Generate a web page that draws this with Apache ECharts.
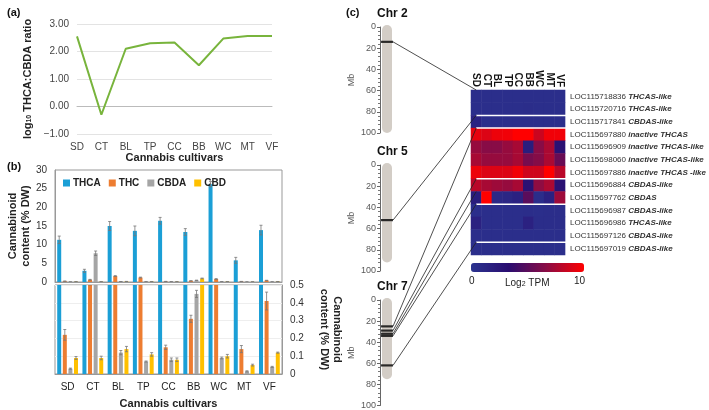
<!DOCTYPE html>
<html>
<head>
<meta charset="utf-8">
<script src="https://cdn.jsdelivr.net/npm/echarts@6/dist/echarts.min.js"></script>
<style>html,body{margin:0;padding:0;background:#fff}#main{width:709px;height:410px}</style>
</head>
<body>
<div id="main"></div>
<script>
// cultivars
var cultivars = ['SD', 'CT', 'BL', 'TP', 'CC', 'BB', 'WC', 'MT', 'VF'];

// panel (a)
var ratio = [2.55, -0.3, 2.1, 2.3, 2.33, 1.5, 2.47, 2.56, 2.56];

// panel (b)
var thca = [11.3, 3.0, 15.0, 13.7, 16.4, 13.4, 26.2, 5.8, 13.9];
var thc = [0.22, 0.6, 1.6, 1.2, 0.15, 0.31, 0.8, 0.14, 0.41];
var cbda = [0.03, 7.7, 0.12, 0.07, 0.08, 0.45, 0.09, 0.015, 0.04];
var cbd = [0.09, 0.09, 0.14, 0.11, 0.08, 0.95, 0.10, 0.05, 0.12];
var thcaErr = [1.0, 0.4, 1.2, 1.3, 0.9, 0.9, 0.7, 0.8, 1.3];
var thcErr = [0.03, 0.1, 0.1, 0.1, 0.012, 0.02, 0.1, 0.02, 0.05];
var cbdaErr = [0.003, 0.6, 0.012, 0.003, 0.01, 0.02, 0.005, 0.003, 0.003];
var cbdErr = [0.008, 0.01, 0.015, 0.01, 0.01, 0.1, 0.01, 0.005, 0.003];

// panel (c)
var genes = ['LOC115718836|THCAS-like', 'LOC115720716|THCAS-like', 'LOC115717841|CBDAS-like',
  'LOC115697880|inactive THCAS', 'LOC115696909|inactive THCAS-like', 'LOC115698060|inactive THCAS-like',
  'LOC115697886|inactive THCAS -like', 'LOC115696884|CBDAS-like', 'LOC115697762|CBDAS',
  'LOC115696987|CBDAS-like', 'LOC115696986|THCAS-like', 'LOC115697126|CBDAS-like', 'LOC115697019|CBDAS-like'];
var tpm = [
  [0.5, 0.5, 0.5, 0.5, 0.5, 0.5, 0.5, 0.5, 0.5],
  [0.5, 0.5, 0.5, 0.5, 0.5, 0.6, 0.5, 0.5, 0.5],
  [1.5, 0.5, 0.5, 0.5, 0.5, 0.5, 0.5, 0.5, 0.5],
  [9.3, 9.0, 9.5, 9.6, 10, 10, 8.5, 9.6, 9.6],
  [7.0, 6.6, 6.6, 7.0, 7.5, 2.0, 6.6, 7.6, 3.0],
  [7.5, 7.0, 7.0, 7.0, 7.5, 6.0, 6.5, 7.6, 5.5],
  [9.5, 9.0, 9.0, 9.0, 9.6, 8.6, 8.6, 10, 8.0],
  [8.0, 7.5, 7.2, 7.0, 7.5, 3.0, 6.8, 7.6, 3.0],
  [2.0, 10, 1.0, 1.2, 1.6, 5.0, 0.6, 1.6, 7.2],
  [0.5, 0.5, 0.5, 0.5, 0.5, 0.6, 0.5, 0.6, 0.6],
  [1.6, 0.5, 0.5, 0.5, 0.5, 1.6, 0.6, 0.6, 0.6],
  [0.5, 0.5, 0.5, 0.5, 0.5, 0.5, 0.5, 0.5, 0.5],
  [0.5, 0.5, 0.5, 0.5, 0.5, 0.5, 0.5, 0.5, 0.5]
];
var groupStarts = [2, 3, 7, 9, 12];  // white separators before these rows
var chrNames = ['Chr 2', 'Chr 5', 'Chr 7'];
var chrLength = [100, 92, 75];
var genePos = [[14], [52], [25, 29, 32, 34, 62]];
var linkRows = [[0], [2], [3, 7, 8, 9, 12]];

var chart = echarts.init(document.getElementById('main'));
var colors = ['#1b9fd6', '#ed7d31', '#a5a5a5', '#ffc000'];
var grey = '#595959';

function errSeries(vals, errs, idx, g) {
  return {
    type: 'custom', xAxisIndex: g, yAxisIndex: g, clip: true, z: 5,
    data: vals.map(function (v, i) { return [i, v, errs[i]]; }),
    renderItem: function (params, api) {
      var off = -8.4 + idx * 5.6;
      var p = api.coord([api.value(0), api.value(1)]);
      var hi = api.coord([api.value(0), api.value(1) + api.value(2)]);
      var lo = api.coord([api.value(0), Math.max(api.value(1) - api.value(2), 0)]);
      var x = p[0] + off;
      var st = { stroke: '#777', lineWidth: 0.8 };
      return { type: 'group', children: [
        { type: 'line', shape: { x1: x, y1: hi[1], x2: x, y2: lo[1] }, style: st },
        { type: 'line', shape: { x1: x - 1.5, y1: hi[1], x2: x + 1.5, y2: hi[1] }, style: st },
        { type: 'line', shape: { x1: x - 1.5, y1: lo[1], x2: x + 1.5, y2: lo[1] }, style: st }
      ] };
    }
  };
}

var names = ['THCA', 'THC', 'CBDA', 'CBD'];
var sets = [thca, thc, cbda, cbd];
var errs = [thcaErr, thcErr, cbdaErr, cbdErr];
var series = [];

series.push({ type: 'line', xAxisIndex: 0, yAxisIndex: 0, data: ratio, symbol: 'none',
  lineStyle: { color: '#78b43c', width: 2 } });

[1, 2].forEach(function (g) {
  sets.forEach(function (s, i) {
    series.push({ type: 'bar', name: g === 1 ? names[i] : names[i] + ' ', xAxisIndex: g, yAxisIndex: g,
      data: s, barWidth: 4, barGap: '40%', itemStyle: { color: colors[i] } });
  });
  sets.forEach(function (s, i) { series.push(errSeries(s, errs[i], i, g)); });
});

var hmData = [];
tpm.forEach(function (row, r) { row.forEach(function (v, c) { hmData.push([c, r, v]); }); });
series.push({ type: 'heatmap', xAxisIndex: 3, yAxisIndex: 3, data: hmData });
var hmIndex = series.length - 1;

var grids = [
  { left: 77, top: 24, width: 195, height: 110 },
  { left: 55, top: 170, width: 227, height: 112, show: true, borderColor: '#999', borderWidth: 1 },
  { left: 55, top: 285, width: 227, height: 89, show: true, borderColor: '#999', borderWidth: 1 },
  { left: 471, top: 90, width: 113, height: 165 }
];
var xAxes = [
  { gridIndex: 0, type: 'category', data: cultivars, boundaryGap: false,
    axisLine: { onZero: true, lineStyle: { color: '#bbb' } }, axisTick: { show: false },
    axisLabel: { color: '#444', fontSize: 10 },
    name: 'Cannabis cultivars', nameLocation: 'middle', nameGap: 0,
    nameTextStyle: { fontWeight: 'bold', fontSize: 11, color: '#222', padding: [-20, 0, 0, 0] } },
  { gridIndex: 1, type: 'category', data: cultivars, axisLabel: { show: false }, axisTick: { show: false },
    axisLine: { lineStyle: { color: '#999' } } },
  { gridIndex: 2, type: 'category', data: cultivars, axisTick: { show: false },
    axisLine: { lineStyle: { color: '#999' } }, axisLabel: { color: '#222', fontSize: 10 },
    name: 'Cannabis cultivars', nameLocation: 'middle', nameGap: 24,
    nameTextStyle: { fontWeight: 'bold', fontSize: 11, color: '#222' } },
  { gridIndex: 3, type: 'category', data: cultivars, position: 'top', axisLine: { show: false },
    axisTick: { show: false }, axisLabel: { interval: 0, rotate: 90, align: 'right', verticalAlign: 'middle',
      fontWeight: 'bold', fontSize: 10, color: '#111', margin: 3 } }
];
var yAxes = [
  { gridIndex: 0, type: 'value', min: -1, max: 3, interval: 1,
    axisLabel: { formatter: function (v) { return v.toFixed(2).replace('-', '\u2212'); }, color: '#444', fontSize: 10 },
    splitLine: { lineStyle: { color: '#e3e3e3' } },
    name: '{b|log}{s|10}{b| THCA:CBDA ratio}', nameLocation: 'middle', nameGap: 44,
    nameTextStyle: { rich: { b: { fontWeight: 'bold', fontSize: 11, color: '#222' }, s: { fontWeight: 'bold', fontSize: 7, color: '#222', verticalAlign: 'bottom' } } } },
  { gridIndex: 1, type: 'value', min: 0, max: 30, interval: 5, splitLine: { show: false },
    axisLine: { show: true, lineStyle: { color: '#999' } }, axisTick: { show: false },
    axisLabel: { color: '#333', fontSize: 10 },
    name: 'Cannabinoid\ncontent (% DW)', nameLocation: 'middle', nameGap: 22,
    nameTextStyle: { fontWeight: 'bold', fontSize: 11, color: '#222', lineHeight: 13 } },
  { gridIndex: 2, type: 'value', min: 0, max: 0.5, interval: 0.1, position: 'right',
    splitLine: { show: true, lineStyle: { color: '#eee' } },
    axisLine: { show: true, lineStyle: { color: '#999' } }, axisTick: { show: false },
    axisLabel: { color: '#333', fontSize: 10, formatter: function (v) { return v === 0 ? '0' : String(+v.toFixed(1)); } },
    name: 'Cannabinoid\ncontent (% DW)', nameLocation: 'middle', nameGap: 36, nameRotate: -90,
    nameTextStyle: { fontWeight: 'bold', fontSize: 11, color: '#222', lineHeight: 13 } },
  { gridIndex: 3, type: 'category', data: genes, inverse: true, position: 'right',
    axisLine: { show: false }, axisTick: { show: false },
    axisLabel: { margin: 5, fontSize: 8, color: '#333',
      formatter: function (v) { var p = v.split('|'); return p[0] + ' {i|' + p[1] + '}'; },
      rich: { i: { fontStyle: 'italic', fontWeight: 'bold', fontSize: 8, color: '#333' } } } }
];

var chrTops = [27, 165, 300];
var titles = [
  { text: '(a)', left: 2, top: 2, textStyle: { fontSize: 11, fontWeight: 'bold', color: '#111' } },
  { text: '(b)', left: 2, top: 156, textStyle: { fontSize: 11, fontWeight: 'bold', color: '#111' } },
  { text: '(c)', left: 341, top: 2, textStyle: { fontSize: 11, fontWeight: 'bold', color: '#111' } }
];
chrNames.forEach(function (n, k) {
  var gi = 4 + k;
  grids.push({ left: 380, top: chrTops[k], width: 14, height: 106 });
  titles.push({ text: n, left: 372, top: chrTops[k] - 24, textStyle: { fontSize: 12, fontWeight: 'bold', color: '#111' } });
  xAxes.push({ gridIndex: gi, type: 'value', min: 0, max: 1, show: false });
  yAxes.push({ gridIndex: gi, type: 'value', min: 0, max: 100, interval: 20, inverse: true,
    axisLine: { show: true, lineStyle: { color: '#666' } },
    axisTick: { show: true, length: 3, lineStyle: { color: '#666' } },
    minorTick: { show: true, splitNumber: 5, length: 2, lineStyle: { color: '#777' } },
    splitLine: { show: false }, axisLabel: { color: grey, fontSize: 9, margin: 4 },
    name: 'Mb', nameLocation: 'middle', nameGap: 24, nameTextStyle: { color: grey, fontSize: 9 } });
  series.push({ type: 'custom', xAxisIndex: gi, yAxisIndex: gi, data: [[0.5, chrLength[k]]],
    renderItem: function (params, api) {
      var a = api.coord([0.5, 0]), b = api.coord([0.5, api.value(1)]);
      return { type: 'rect', shape: { x: a[0] - 5, y: a[1] - 2, width: 10, height: b[1] - a[1] + 2, r: 5 },
        style: { fill: '#d3cdc6' } };
    } });
  series.push({ type: 'scatter', xAxisIndex: gi, yAxisIndex: gi, symbol: 'rect', symbolSize: [12, 2.2],
    itemStyle: { color: '#000' }, z: 4, data: genePos[k].map(function (p) { return [0.5, p]; }) });
});

chart.setOption({
  animation: false,
  textStyle: { fontFamily: 'Arial, Liberation Sans, sans-serif' },
  title: titles,
  grid: grids, xAxis: xAxes, yAxis: yAxes,
  legend: { data: names, left: 58, top: 173, itemWidth: 7, itemHeight: 7, itemGap: 8, icon: 'rect',
    textStyle: { fontWeight: 'bold', fontSize: 10, color: '#222', padding: [0, 0, 0, -2] } },
  visualMap: { type: 'continuous', min: 0, max: 10, seriesIndex: hmIndex, orient: 'horizontal',
    left: 471, top: 263, padding: 0, itemWidth: 9, itemHeight: 113, calculable: false, text: null, showLabel: false,
    inRange: { color: ['#2b3490', '#2a0d70', '#8a0c45', '#ff0000'] } },
  series: series
});

// separators, connecting lines, colour bar labels
var els = [];
var hx0 = chart.convertToPixel({ gridIndex: 3 }, [-0.5, 0])[0];
var hx1 = chart.convertToPixel({ gridIndex: 3 }, [8.5, 0])[0];
function rowTop(r) { return chart.convertToPixel({ gridIndex: 3 }, [0, r])[1] - 165 / 26; }
groupStarts.forEach(function (r) {
  els.push({ type: 'line', shape: { x1: hx0, y1: rowTop(r), x2: hx1, y2: rowTop(r) }, style: { stroke: '#fff', lineWidth: 1.5 }, z: 100 });
});
genePos.forEach(function (ps, k) {
  ps.forEach(function (p, j) {
    var a = chart.convertToPixel({ gridIndex: 4 + k }, [0.5, p]);
    els.push({ type: 'line', shape: { x1: a[0] + 6, y1: a[1], x2: hx0, y2: rowTop(linkRows[k][j]) },
      style: { stroke: '#222', lineWidth: 0.8 }, z: 100 });
  });
});
els.push({ type: 'text', left: 469, top: 276, style: { text: '0', fontSize: 10, fill: '#222' } });
els.push({ type: 'text', left: 574, top: 276, style: { text: '10', fontSize: 10, fill: '#222' } });
els.push({ type: 'text', left: 505, top: 278, style: { rich: { n: { fontSize: 10, fill: '#222' }, s: { fontSize: 7, fill: '#222', verticalAlign: 'bottom' } }, text: '{n|Log}{s|2}{n| TPM}' } });
chart.setOption({ graphic: els });
</script>
</body>
</html>
